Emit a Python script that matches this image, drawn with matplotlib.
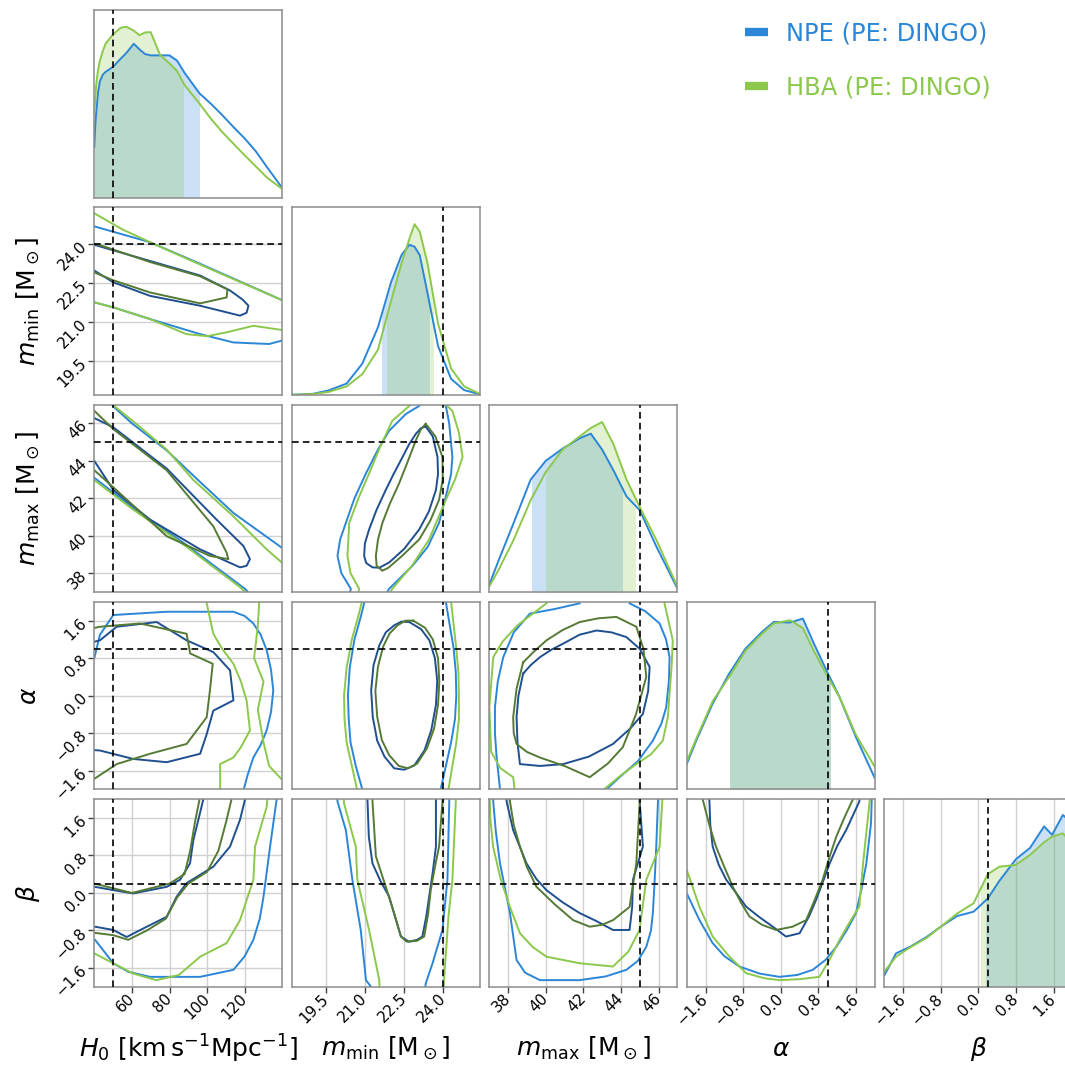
import numpy as np
import matplotlib.pyplot as plt
from matplotlib.lines import Line2D
from matplotlib.patches import Rectangle

npe_color = '#2b86d8'
npe_dark = '#1f4f8f'
hba_color = '#8cc84b'
hba_dark = '#557a35'

labels = [r'$H_0\ [\mathrm{km\,s^{-1}Mpc^{-1}}]$', r'$m_{\mathrm{min}}\ [\mathrm{M}_\odot]$',
          r'$m_{\mathrm{max}}\ [\mathrm{M}_\odot]$', r'$\alpha$', r'$\beta$']
limits = [(40, 140), (18.2, 25.4), (37, 47), (-2, 2), (-2, 2)]
ticks = [[60, 80, 100, 120], [19.5, 21.0, 22.5, 24.0], [38, 40, 42, 44, 46],
         [-1.6, -0.8, 0.0, 0.8, 1.6], [-1.6, -0.8, 0.0, 0.8, 1.6]]
tick_fmt = ['{:.0f}', '{:.1f}', '{:.0f}', '{:.1f}', '{:.1f}']
truths = [50, 24.0, 45, 1.0, 0.2]

# 1D marginals (height as fraction of panel)
h0_x = [40, 40.5, 41, 42, 43, 44.5, 46, 50, 54, 57, 61, 64, 67, 70, 75, 80, 84, 88, 92, 96, 102, 108, 114, 120,
        126, 132, 140]
h0_npe = [0.27, 0.38, 0.45, 0.56, 0.62, 0.655, 0.67, 0.697, 0.74, 0.77, 0.82, 0.79, 0.765, 0.758, 0.758, 0.758,
          0.73, 0.665, 0.61, 0.555, 0.5, 0.44, 0.376, 0.315, 0.245, 0.16, 0.05]
h0_hba = [0.45, 0.53, 0.6, 0.68, 0.73, 0.78, 0.82, 0.87, 0.905, 0.911, 0.89, 0.866, 0.88, 0.882, 0.76, 0.715,
          0.675, 0.6, 0.55, 0.5, 0.42, 0.35, 0.287, 0.225, 0.165, 0.105, 0.045]
mmin_x = [18.2, 19.0, 19.6, 20.3, 20.9, 21.5, 22.0, 22.4, 22.7, 22.9, 23.1, 23.4, 23.8, 24.3, 24.8, 25.4]
mmin_npe = [0.0, 0.005, 0.023, 0.06, 0.166, 0.36, 0.6, 0.745, 0.8, 0.79, 0.745, 0.54, 0.26, 0.085, 0.025, 0.003]
mmin_hba = [0.0, 0.004, 0.015, 0.045, 0.11, 0.24, 0.5, 0.7, 0.83, 0.91, 0.87, 0.7, 0.38, 0.14, 0.045, 0.005]
mmax_x = [37, 37.5, 38.3, 39.2, 40.0, 40.9, 41.8, 42.4, 43.0, 43.6, 44.3, 45.0, 45.9, 47.0]
mmax_npe = [0.04, 0.17, 0.37, 0.6, 0.70, 0.765, 0.82, 0.845, 0.76, 0.65, 0.51, 0.437, 0.24, 0.02]
mmax_hba = [0.03, 0.12, 0.28, 0.49, 0.64, 0.76, 0.83, 0.875, 0.907, 0.79, 0.6, 0.454, 0.275, 0.03]
alpha_x = [-2, -1.8, -1.45, -1.1, -0.75, -0.4, -0.15, 0.2, 0.47, 0.7, 1.0, 1.25, 1.6, 2.0]
alpha_npe = [0.136, 0.26, 0.457, 0.617, 0.751, 0.84, 0.893, 0.89, 0.911, 0.78, 0.62, 0.492, 0.278, 0.06]
alpha_hba = [0.15, 0.27, 0.47, 0.6, 0.74, 0.83, 0.885, 0.902, 0.86, 0.74, 0.6, 0.492, 0.29, 0.12]
beta_x = [-2, -1.75, -1.45, -1.1, -0.8, -0.45, -0.1, 0.2, 0.45, 0.8, 1.1, 1.4, 1.57, 1.8, 2.0]
beta_npe = [0.06, 0.178, 0.213, 0.265, 0.32, 0.377, 0.4, 0.47, 0.565, 0.68, 0.74, 0.855, 0.81, 0.916, 0.87]
beta_hba = [0.08, 0.16, 0.21, 0.26, 0.32, 0.39, 0.445, 0.6, 0.64, 0.65, 0.703, 0.77, 0.8, 0.818, 0.76]

# credible intervals shaded under the marginals
npe_intervals = [(40, 95.7), (21.65, 23.45), (39.25, 44.08), (-1.09, 1.04), (0.16, 2.0)]
hba_intervals = [(40, 87.3), (21.86, 23.6), (40.01, 44.73), (-1.09, 1.04), (0.05, 2.0)]

# 2D contours (x, y) in data units; 95% = light, 68% = dark
mmin_h0_npe_95 = [(30, 25.0), (40.4, 24.66), (69.6, 24.06), (96.3, 23.23), (139.7, 21.84), (150, 21.4),
                  (150, 20.2), (139.7, 20.28), (133, 20.15), (114, 20.21), (96.3, 20.53), (69.6, 21.11),
                  (50, 21.56), (40, 21.75), (30, 22.1)]
mmin_h0_hba_95 = [(30, 25.6), (40, 25.17), (55, 24.55), (69.6, 24.06), (96.3, 23.2), (139.7, 21.84), (150, 21.5),
                  (150, 20.6), (139.7, 20.69), (124.6, 20.85), (110.4, 20.6), (100, 20.45), (89, 20.53),
                  (69.6, 21.11), (50, 21.56), (40, 21.75), (30, 22.1)]
mmin_h0_npe_68 = [(30, 24.3), (40, 23.96), (69.6, 23.34), (96.3, 22.78), (112.3, 22.2), (119, 21.85), (122, 21.62),
                  (121, 21.35), (117.5, 21.24), (96.3, 21.62), (69.6, 22.0), (50.1, 22.52), (40, 22.97), (30, 23.4)]
mmin_h0_hba_68 = [(30, 24.35), (40, 24.0), (45, 23.9), (69.6, 23.3), (96.3, 22.75), (110.8, 22.25),
                  (110.4, 21.94), (96.3, 21.71), (69.6, 22.13), (50, 22.6), (40, 22.9), (30, 23.35)]

mmax_h0_npe_95 = [(45, 48.5), (49.8, 46.93), (60, 46.0), (78.5, 44.56), (96, 42.9), (114, 41.22),
                  (139.7, 39.37), (150, 38.6), (150, 34), (120.2, 37.17), (87.3, 39.64), (60.7, 41.48),
                  (40, 43.1), (30, 44.0)]
mmax_h0_hba_95 = [(45, 48.5), (50.5, 46.93), (62, 46.0), (78.5, 44.6), (92.7, 42.98), (114, 41.04),
                  (131.7, 39.28), (139.7, 38.58), (150, 37.7), (150, 34), (117.6, 37.26), (87.3, 39.55),
                  (60.7, 41.4), (40, 42.97), (30, 43.8)]
mmax_h0_npe_68 = [(30, 47.0), (40, 46.28), (50.1, 45.79), (78.5, 43.59), (105, 40.87), (119.3, 39.46),
                  (122.8, 38.76), (121, 38.4), (117.5, 38.32), (96.3, 39.28), (69.6, 40.87), (50.1, 42.45),
                  (40, 44.0), (30, 45.0)]
mmax_h0_hba_68 = [(30, 47.5), (40, 46.67), (50, 45.7), (78.5, 43.5), (103.3, 40.51), (110.4, 39.1),
                  (111.3, 38.76), (101.5, 38.93), (78.5, 39.98), (50, 42.6), (40, 43.5), (30, 44.5)]

alpha_h0_npe_95 = [(35, 0.7), (40, 0.8), (43, 1.3), (50.1, 1.72), (78.5, 1.79), (114, 1.79), (120, 1.7),
                   (124.6, 1.54), (128.5, 1.3), (131.7, 0.97), (134, 0.55), (135.2, 0.11), (134, -0.35),
                   (131.7, -0.74), (128.5, -1.05), (124.6, -1.32), (121.5, -1.7), (119.3, -2.03), (119, -2.5)]
alpha_h0_hba_95 = [(99.8, 2.2), (99.8, 1.97), (103.3, 1.32), (108, 1.0), (114, 0.68), (118, 0.3), (121, -0.1),
                   (122.8, -0.74), (118, -1.1), (114, -1.32), (106.9, -1.46), (107, -2.2)]
alpha_h0_hba_95b = [(128, 2.2), (127, 1.5), (125, 0.8), (130, 0.3), (127, -0.3), (130, -1.0), (133, -1.5),
                    (140, -1.8), (145, -1.9)]
alpha_h0_npe_68 = [(35, 1.1), (43, 1.18), (51.9, 1.47), (73.2, 1.57), (89.1, 1.18), (103.3, 0.93),
                   (112.2, 0.54), (114, -0.1), (103.3, -0.32), (99.8, -0.82), (96.3, -1.24), (78.5, -1.42),
                   (60.7, -1.35), (43, -1.17), (35, -1.15)]
alpha_h0_hba_68 = [(35, 1.4), (43, 1.47), (64.3, 1.54), (89.1, 1.32), (91, 0.9), (103, 0.68), (101.5, 0.11),
                   (99.8, -0.46), (89.1, -1.03), (69.6, -1.24), (51.9, -1.46), (41.3, -1.74), (35, -1.9)]

beta_h0_npe_95 = [(35, -0.9), (40.4, -1.0), (50.1, -1.5), (58, -1.68), (69.6, -1.79), (96.3, -1.79),
                  (114, -1.64), (120, -1.35), (124.6, -1.0), (128, -0.55), (130, -0.08), (133.5, 0.99),
                  (137, 2.0), (138, 2.5)]
beta_h0_hba_95 = [(35, -1.2), (40, -1.29), (60.7, -1.72), (73, -1.86), (85, -1.75), (96.3, -1.36),
                  (110.4, -1.07), (117.5, -0.58), (124.6, 0.28), (125.5, 0.99), (131.7, 1.84), (133, 2.5)]
beta_h0_npe_68 = [(30, 0.15), (40.4, 0.13), (50.1, 0.06), (60.7, -0.01), (69.6, 0.06), (78.5, 0.13),
                  (85.6, 0.28), (90.9, 0.63), (92.7, 1.13), (96.2, 1.70), (98, 2.0), (99, 2.5), (121, 2.5),
                  (120.2, 2.0), (117.5, 1.56), (112.2, 0.99), (103.3, 0.56), (89.1, 0.21), (83.8, -0.08),
                  (78.5, -0.51), (67.9, -0.72), (57.2, -0.94), (50.1, -0.79), (40.4, -0.72), (30, -0.7)]
beta_h0_hba_68 = [(30, 0.25), (40, 0.2), (50, 0.1), (60, 0.0), (70, 0.1), (80, 0.2), (88, 0.4), (91, 0.9),
                  (93.5, 1.5), (96, 2.0), (97, 2.5), (115, 2.5), (113, 2.0), (110, 1.5), (106, 0.9),
                  (100, 0.45), (90, 0.2), (84, -0.1), (78, -0.55), (68, -0.8), (58, -1.0), (50, -0.9),
                  (40, -0.85), (30, -0.8)]

mmax_mmin_npe_95 = [(20.3, 36), (20.46, 37.18), (20.1, 38.0), (19.95, 38.93), (20.05, 39.8), (20.27, 40.69),
                    (20.6, 42.0), (21.04, 43.33), (21.5, 44.6), (21.93, 45.61), (22.57, 46.5), (23.08, 46.93),
                    (23.5, 48), (24.1, 46.93), (24.23, 45.97), (24.35, 44.2), (24.3, 43.3), (24.16, 42.45),
                    (23.84, 40.69), (23.4, 39.4), (22.82, 38.4), (21.93, 37.18), (21.4, 36)]
mmax_mmin_hba_95 = [(20.6, 36), (20.78, 37.18), (20.45, 38.0), (20.33, 38.93), (20.4, 40.69), (20.75, 42.0),
                    (21.16, 43.33), (21.6, 44.8), (22.05, 46.14), (22.7, 46.93), (23.3, 48), (24.35, 46.67),
                    (24.6, 45.5), (24.74, 44.2), (24.45, 43.0), (24.1, 41.92), (23.46, 39.81), (22.8, 38.4),
                    (22.05, 37.18), (21.6, 36)]
mmax_mmin_npe_68 = [(23.33, 45.83), (23.6, 45.3), (23.78, 44.2), (23.8, 43.3), (23.72, 42.45), (23.45, 41.3),
                    (23.08, 40.34), (22.5, 39.3), (21.93, 38.58), (21.55, 38.3), (21.29, 38.32), (21.05, 38.55),
                    (20.97, 38.93), (21.0, 39.6), (21.16, 40.34), (21.45, 41.4), (21.8, 42.45), (22.1, 43.3),
                    (22.44, 44.2), (22.7, 44.9), (22.95, 45.44), (23.15, 45.75), (23.33, 45.83)]
mmax_mmin_hba_68 = [(23.33, 45.97), (23.7, 45.3), (23.97, 44.2), (23.98, 43.0), (23.84, 41.92), (23.5, 40.8),
                    (23.08, 39.81), (22.4, 38.9), (21.9, 38.3), (21.67, 38.14), (21.45, 38.4), (21.42, 38.93),
                    (21.5, 39.8), (21.67, 40.69), (21.95, 41.7), (22.31, 42.8), (22.65, 44.0), (22.95, 45.09),
                    (23.15, 45.7), (23.33, 45.97)]

alpha_mmin_npe_95 = [(21.2, 2.5), (20.85, 1.7), (20.6, 1.2), (20.42, 0.6), (20.35, 0.0), (20.38, -0.5),
                     (20.45, -1.0), (20.65, -1.5), (20.9, -2.0), (21.0, -2.5), (23.8, -2.5), (23.9, -2.0),
                     (24.1, -1.5), (24.3, -1.0), (24.45, -0.5), (24.5, 0.0), (24.48, 0.5), (24.4, 1.0),
                     (24.25, 1.5), (24.1, 2.0), (24.0, 2.5)]
alpha_mmin_hba_95 = [(21.1, 2.5), (20.75, 1.7), (20.5, 1.2), (20.3, 0.6), (20.2, 0.0), (20.22, -0.5),
                     (20.3, -1.0), (20.5, -1.5), (20.7, -2.0), (20.8, -2.5), (24.1, -2.5), (24.2, -2.0),
                     (24.35, -1.5), (24.5, -1.0), (24.6, -0.5), (24.6, 0.0), (24.58, 0.5), (24.5, 1.0),
                     (24.4, 1.5), (24.3, 2.0), (24.2, 2.5)]
alpha_mmin_npe_68 = [(22.7, 1.57), (23.15, 1.42), (23.47, 1.18), (23.68, 0.8), (23.77, 0.32), (23.72, -0.2),
                     (23.54, -0.74), (23.28, -1.17), (22.89, -1.49), (22.5, -1.58), (22.12, -1.55),
                     (21.75, -1.3), (21.47, -0.96), (21.3, -0.45), (21.24, 0.11), (21.33, 0.65), (21.55, 1.07),
                     (21.8, 1.35), (22.12, 1.5), (22.4, 1.58), (22.7, 1.57)]
alpha_mmin_hba_68 = [(22.85, 1.6), (23.3, 1.45), (23.6, 1.2), (23.8, 0.8), (23.85, 0.3), (23.8, -0.2),
                     (23.65, -0.7), (23.38, -1.12), (23.0, -1.45), (22.65, -1.55), (22.3, -1.5), (21.93, -1.27),
                     (21.65, -0.95), (21.47, -0.45), (21.4, 0.1), (21.5, 0.62), (21.7, 1.05), (21.95, 1.33),
                     (22.25, 1.5), (22.55, 1.6), (22.85, 1.6)]

beta_mmin_npe_95 = [(19.9, 2.5), (19.95, 1.95), (20.27, 1.34), (20.52, 0.28), (20.84, -0.79), (21.04, -1.86),
                    (21.3, -2.05), (21.5, -2.5), (23.2, -2.5), (23.33, -1.93), (23.59, -1.5), (23.97, -0.79),
                    (24.16, 0.28), (24.23, 1.95), (24.25, 2.5)]
beta_mmin_hba_95 = [(20.15, 2.5), (20.2, 1.91), (20.65, 0.99), (20.71, 0.28), (21.16, -0.79), (21.55, -1.86),
                    (21.6, -2.5), (24.0, -2.5), (24.03, -1.86), (24.2, -0.5), (24.35, 0.28), (24.48, 1.95),
                    (24.5, 2.5)]
beta_mmin_npe_68 = [(21.08, 2.5), (21.1, 1.95), (21.15, 1.2), (21.29, 0.63), (21.6, 0.25), (21.93, -0.08),
                    (22.15, -0.5), (22.38, -0.93), (22.69, -1.04), (23.0, -1.0), (23.2, -0.93), (23.35, -0.5),
                    (23.46, -0.08), (23.6, 0.45), (23.72, 0.99), (23.72, 1.95), (23.72, 2.5)]
beta_mmin_hba_68 = [(21.28, 2.5), (21.29, 1.95), (21.42, 0.78), (21.8, 0.13), (22.1, -0.4), (22.38, -0.93),
                    (22.6, -1.04), (23.0, -1.02), (23.27, -0.93), (23.42, -0.45), (23.52, 0.06), (23.68, 0.55),
                    (23.84, 0.99), (23.97, 1.95), (23.98, 2.5)]

alpha_mmax_npe_95 = [(41.8, 2.3), (41.81, 1.97), (40.5, 1.85), (39.16, 1.75), (38.3, 1.35), (37.74, 0.82),
                     (37.45, 0.3), (37.3, -0.25), (37.3, -0.8), (37.39, -1.32), (37.57, -2.0), (37.6, -2.5),
                     (43.2, -2.5), (43.23, -2.0), (43.93, -1.74), (44.9, -1.4), (45.7, -0.96), (46.15, -0.6),
                     (46.41, -0.25), (46.55, 0.3), (46.59, 0.82), (46.4, 1.2), (46.06, 1.54), (45.3, 1.8),
                     (44.46, 1.97), (44.4, 2.3)]
alpha_mmax_hba_95 = [(40.0, 2.3), (40.04, 1.97), (38.5, 1.5), (37.7, 1.15), (37.21, 0.82), (37.0, -0.25),
                     (37.1, -1.2), (37.6, -1.55), (38.27, -1.74), (38.5, -2.5), (43.0, -2.5), (43.1, -2.0),
                     (44.0, -1.7), (44.82, -1.46), (45.6, -1.25), (46.23, -0.96), (46.5, -0.45), (46.6, 0.11),
                     (46.7, 0.65), (46.76, 1.18), (46.5, 1.65), (46.3, 2.0), (46.2, 2.3)]
alpha_mmax_npe_68 = [(38.8, 0.47), (38.55, 0.0), (38.45, -0.46), (38.5, -1.0), (38.63, -1.46), (39.7, -1.5),
                     (40.93, -1.46), (42.3, -1.3), (43.58, -1.03), (44.5, -0.7), (45.17, -0.39), (45.45, 0.1),
                     (45.53, 0.61), (45.0, 1.0), (44.29, 1.25), (43.5, 1.35), (42.7, 1.39), (41.8, 1.3),
                     (40.93, 1.11), (40.3, 0.98), (39.69, 0.82), (39.2, 0.65), (38.8, 0.47)]
alpha_mmax_hba_68 = [(38.8, 0.71), (38.45, 0.15), (38.27, -0.46), (38.3, -0.8), (38.45, -1.03), (39.0, -1.2),
                     (39.69, -1.32), (41.0, -1.5), (42.34, -1.74), (43.3, -1.45), (44.1, -1.1), (44.8, -0.4),
                     (45.35, 0.4), (45.2, 1.0), (44.82, 1.47), (43.76, 1.68), (42.8, 1.65), (41.81, 1.57),
                     (40.9, 1.4), (40.04, 1.18), (39.4, 0.95), (38.8, 0.71)]

beta_mmax_npe_95 = [(37.2, 2.5), (37.21, 1.95), (37.35, 1.3), (37.57, 0.63), (38.1, -0.43), (38.45, -1.43),
                    (38.9, -1.7), (39.69, -1.86), (41.81, -1.86), (43.2, -1.78), (44.29, -1.64), (44.9, -1.45),
                    (45.35, -1.15), (45.6, -0.8), (45.7, -0.43), (45.8, 0.3), (45.88, 0.99), (45.97, 1.95),
                    (46.0, 2.5)]
beta_mmax_hba_95 = [(37.0, 2.5), (37.05, 1.6), (37.2, 0.99), (37.6, 0.3), (38.1, -0.3), (38.63, -0.86),
                    (39.3, -1.15), (40.04, -1.36), (41.81, -1.5), (43.58, -1.57), (44.4, -1.25), (44.99, -0.79),
                    (45.35, 0.28), (46.06, 0.99), (46.2, 1.95), (46.25, 2.5)]
beta_mmax_npe_68 = [(37.9, 2.5), (37.92, 1.95), (38.27, 1.34), (38.98, 0.63), (39.5, 0.3), (40.04, 0.06),
                    (40.9, -0.2), (41.81, -0.43), (42.7, -0.6), (43.58, -0.79), (44.46, -0.79), (44.6, -0.3),
                    (44.64, 0.28), (45.17, 0.99), (45.0, 1.95), (45.0, 2.5)]
beta_mmax_hba_68 = [(38.05, 2.5), (38.1, 1.95), (38.3, 1.45), (38.63, 0.99), (39.0, 0.55), (39.51, 0.13),
                    (40.5, -0.25), (41.46, -0.58), (42.34, -0.72), (43.0, -0.68), (43.58, -0.58), (44.46, -0.3),
                    (44.82, 0.63), (45.0, 1.95), (45.0, 2.5)]

beta_alpha_npe_95 = [(-2.5, 0.2), (-2.0, -0.01), (-1.73, -0.58), (-1.45, -1.07), (-1.2, -1.35), (-0.88, -1.57),
                     (-0.45, -1.72), (-0.03, -1.79), (0.35, -1.75), (0.68, -1.64), (0.95, -1.43), (1.18, -1.15),
                     (1.4, -0.8), (1.6, -0.43), (1.72, 0.1), (1.82, 0.63), (1.92, 1.49), (1.95, 2.5)]
beta_alpha_hba_95 = [(-2.5, 0.7), (-2.0, 0.49), (-1.73, -0.3), (-1.45, -0.93), (-1.1, -1.35), (-0.74, -1.71),
                     (-0.35, -1.82), (-0.03, -1.86), (0.4, -1.84), (0.82, -1.79), (1.05, -1.4), (1.25, -1.0),
                     (1.45, -0.65), (1.67, -0.29), (1.75, 0.63), (1.89, 1.95), (1.9, 2.5)]
beta_alpha_npe_68 = [(-1.53, 2.5), (-1.52, 1.99), (-1.5, 1.45), (-1.45, 0.99), (-1.32, 0.6), (-1.16, 0.28),
                     (-0.95, 0.0), (-0.74, -0.29), (-0.45, -0.52), (-0.17, -0.72), (0.11, -0.93), (0.4, -0.86),
                     (0.6, -0.5), (0.75, -0.15), (0.9, 0.25), (1.04, 0.63), (1.2, 1.0), (1.39, 1.34),
                     (1.67, 1.95), (1.7, 2.5)]
beta_alpha_hba_68 = [(-1.68, 2.5), (-1.66, 1.99), (-1.52, 1.45), (-1.38, 0.99), (-1.2, 0.55), (-1.02, 0.13),
                     (-0.85, -0.2), (-0.67, -0.5), (-0.4, -0.68), (-0.1, -0.79), (0.25, -0.72), (0.54, -0.58),
                     (0.72, -0.15), (0.89, 0.28), (1.03, 0.75), (1.18, 1.2), (1.35, 1.6), (1.53, 1.99),
                     (1.55, 2.5)]

marginals = [(h0_x, h0_npe, h0_hba), (mmin_x, mmin_npe, mmin_hba), (mmax_x, mmax_npe, mmax_hba),
             (alpha_x, alpha_npe, alpha_hba), (beta_x, beta_npe, beta_hba)]
contours = {
    (1, 0): [(mmin_h0_npe_95, 0), (mmin_h0_hba_95, 1), (mmin_h0_npe_68, 2), (mmin_h0_hba_68, 3)],
    (2, 0): [(mmax_h0_npe_95, 0), (mmax_h0_hba_95, 1), (mmax_h0_npe_68, 2), (mmax_h0_hba_68, 3)],
    (3, 0): [(alpha_h0_npe_95, 0), (alpha_h0_hba_95, 1), (alpha_h0_hba_95b, 1), (alpha_h0_npe_68, 2),
             (alpha_h0_hba_68, 3)],
    (4, 0): [(beta_h0_npe_95, 0), (beta_h0_hba_95, 1), (beta_h0_npe_68, 2), (beta_h0_hba_68, 3)],
    (2, 1): [(mmax_mmin_npe_95, 0), (mmax_mmin_hba_95, 1), (mmax_mmin_npe_68, 2), (mmax_mmin_hba_68, 3)],
    (3, 1): [(alpha_mmin_npe_95, 0), (alpha_mmin_hba_95, 1), (alpha_mmin_npe_68, 2), (alpha_mmin_hba_68, 3)],
    (4, 1): [(beta_mmin_npe_95, 0), (beta_mmin_hba_95, 1), (beta_mmin_npe_68, 2), (beta_mmin_hba_68, 3)],
    (3, 2): [(alpha_mmax_npe_95, 0), (alpha_mmax_hba_95, 1), (alpha_mmax_npe_68, 2), (alpha_mmax_hba_68, 3)],
    (4, 2): [(beta_mmax_npe_95, 0), (beta_mmax_hba_95, 1), (beta_mmax_npe_68, 2), (beta_mmax_hba_68, 3)],
    (4, 3): [(beta_alpha_npe_95, 0), (beta_alpha_hba_95, 1), (beta_alpha_npe_68, 2), (beta_alpha_hba_68, 3)],
}
contour_colors = [npe_color, hba_color, npe_dark, hba_dark]

fig = plt.figure(figsize=(10.65, 10.66), dpi=100)
W, H = 1065, 1066

for i in range(5):
    for j in range(i + 1):
        left = (94.3 + 197.5 * j) / W
        top = 10 + 197.3 * i
        ax = fig.add_axes([left, 1 - (top + 187.5) / H, 188 / W, 187.5 / H])
        ax.set_axisbelow(True)
        ax.set_xlim(*limits[j])
        if i == j:
            x, y_npe, y_hba = marginals[i]
            ax.set_ylim(0, 1)
            for y, c, (lo, hi) in [(y_npe, npe_color, npe_intervals[i]), (y_hba, hba_color, hba_intervals[i])]:
                fill = ax.fill_between(x, 0, y, color=c, alpha=0.25, lw=0)
                fill.set_clip_path(Rectangle((lo, 0), hi - lo, 2, transform=ax.transData))
            ax.plot(x, y_npe, color=npe_color, lw=1.4)
            ax.plot(x, y_hba, color=hba_color, lw=1.4)
        else:
            ax.set_ylim(*limits[i])
            for pts, k in contours[(i, j)]:
                px, py = zip(*pts)
                ax.plot(px, py, color=contour_colors[k], lw=1.4)
            ax.axhline(truths[i], color='k', ls=(0, (4, 2.5)), lw=1.2, zorder=5)
        ax.axvline(truths[j], color='k', ls=(0, (4, 2.5)), lw=1.2, zorder=5)

        if i == 4:
            ax.set_xticks(ticks[j])
            ax.set_xticklabels([tick_fmt[j].format(t).replace('-', '\u2212') for t in ticks[j]],
                               rotation=45, ha='right', va='center', rotation_mode='anchor')
            ax.grid(axis='x', color='0.82', lw=1)
            ax.set_xlabel(labels[j], fontsize=18, va='center')
            ax.xaxis.set_label_coords(0.5, -0.33)
        else:
            ax.set_xticks([])
        if j == 0 and i > 0:
            ax.set_yticks(ticks[i])
            ax.set_yticklabels([tick_fmt[i].format(t).replace('-', '\u2212') for t in ticks[i]],
                               rotation=45, ha='right', va='center', rotation_mode='anchor')
            ax.grid(axis='y', color='0.82', lw=1)
            ax.set_ylabel(labels[i], fontsize=18, va='center')
            ax.yaxis.set_label_coords(-0.35, 0.5)
        else:
            ax.set_yticks([])
        ax.tick_params(direction='out', length=4, width=1, color='0.25', labelsize=11, pad=3)
        for s in ax.spines.values():
            s.set_color('0.55')
            s.set_linewidth(1.1)

handles = [Line2D([], [], color=npe_color, lw=6, solid_capstyle='butt'),
           Line2D([], [], color=hba_color, lw=6, solid_capstyle='butt')]
fig.legend(handles, ['NPE (PE: DINGO)', 'HBA (PE: DINGO)'], loc='upper left',
           bbox_to_anchor=(745 / W, 1 - 21 / H), frameon=False, fontsize=17.4,
           borderpad=0, borderaxespad=0, handlelength=0.95, handletextpad=0.75,
           labelspacing=1.25, labelcolor='linecolor')

fig.savefig('out.png', dpi=100)
